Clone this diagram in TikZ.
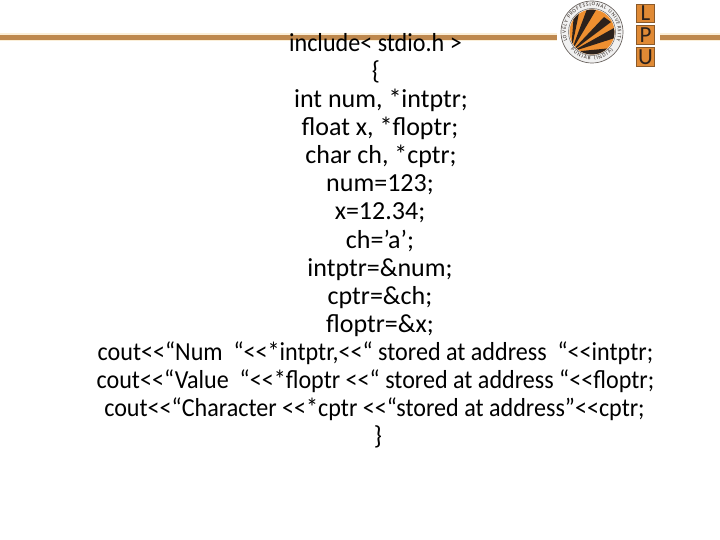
\documentclass[tikz,border=0pt]{standalone}
\usepackage{fontspec}
\setmainfont{Carlito}
\usetikzlibrary{decorations.text}
\definecolor{barc}{HTML}{BE884E}
\definecolor{bargl}{HTML}{FBEFD8}
\definecolor{lpuo}{HTML}{E08A35}
\definecolor{lpub}{HTML}{8A5A2B}
\definecolor{discc}{HTML}{EE8F30}
\definecolor{ringg}{HTML}{F1F1F1}
\definecolor{rayc}{HTML}{2B211C}
\newcommand{\shl}{<{}<}
\newcommand{\tight}[1]{\scalebox{0.927}[1]{#1}}
\tikzset{
  codeline/.style={font=\fontsize{26}{28}\selectfont,text=black,inner sep=0pt,anchor=base},
  bar/.style={fill=barc,draw=none},
  lpubox/.style={draw=lpub,line width=1pt,fill=lpuo,minimum width=18pt,minimum height=18.5pt,inner sep=0pt,font=\fontsize{23}{23}\selectfont,text=rayc},
  ray/.style={fill=rayc,draw=none},
  ringtext/.style={decorate,decoration={text along path,text align={fit to path},text={|\fontsize{5.2}{5.2}\selectfont\color{rayc}|#1}}}
}
\begin{document}
\begin{tikzpicture}[x=1pt,y=-1pt]
\useasboundingbox (0,0) rectangle (720,540);
% bars
\fill[bargl] (0,33) rectangle (557,41);
\fill[bar] (0,35) rectangle (557,40);
\fill[bargl] (660,33) rectangle (720,41);
\fill[bar] (660,35) rectangle (720,40);
% logo
\coordinate (c) at (592,32);
\fill[ringg] (c) circle[radius=31];
\draw[rayc!70,line width=.7pt] (c) circle[radius=31];
\draw[rayc!70,line width=.5pt] (c) circle[radius=23.5];
\fill[discc] (c) circle[radius=22.5];
\begin{scope}
\clip (c) circle[radius=22.5];
\fill[ray] (571,52) -- (574,12) -- (579,13) -- cycle;
\fill[ray] (571,52) -- (587,9) -- (596,10) -- cycle;
\fill[ray] (571,52) -- (604,17) -- (611,22) -- cycle;
\fill[ray] (571,52) -- (614,28) -- (618,37) -- cycle;
\fill[ray] (571,52) -- (612,48) -- (606,55) -- (585,56) -- cycle;
\end{scope}
\path[ringtext={LOVELY PROFESSIONAL UNIVERSITY}] (567.5,40.9) arc[start angle=-200,end angle=20,radius=26];
\path[ringtext={PUNJAB (INDIA)}] (570.6,49.9) arc[start angle=-220,end angle=-320,radius=28];
% LPU
\node[lpubox] (l) at (645.5,13.5) {L};
\node[lpubox] (p) at (645.5,35) {P};
\node[lpubox] (u) at (645.5,57) {U};
% code
\node[codeline] (t1) at (375.5,52) {\tight{include< stdio.h >}};
\node[codeline] (t2) at (376,80) {\{};
\node[codeline] (t3) at (381,108) {int num, *intptr;};
\node[codeline] (t4) at (380,136) {float x, *floptr;};
\node[codeline] (t5) at (381,164) {char ch, *cptr;};
\node[codeline] (t6) at (380,192) {num=123;};
\node[codeline] (t7) at (380,220) {x=12.34;};
\node[codeline] (t8) at (380,248) {ch=’a’;};
\node[codeline] (t9) at (380,276) {intptr=\&num;};
\node[codeline] (t10) at (380,304) {cptr=\&ch;};
\node[codeline] (t11) at (380,332) {floptr=\&x;};
\node[codeline] (t12) at (375.5,360) {\tight{cout\shl“Num\ \ “\shl*intptr,\shl“ stored at address\ \ “\shl intptr;}};
\node[codeline] (t13) at (375.5,388) {\tight{cout\shl“Value\ \ “\shl*floptr \shl“ stored at address “\shl floptr;}};
\node[codeline] (t14) at (374.5,416) {\tight{cout\shl“Character \shl*cptr \shl“stored at address”\shl cptr;}};
\node[codeline] (t15) at (378,444) {\}};
\end{tikzpicture}
\end{document}
